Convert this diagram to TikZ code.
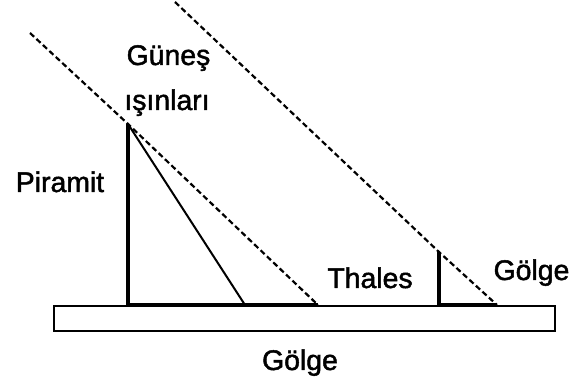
\documentclass[tikz,border=0pt]{standalone}
\usepackage{fontspec}
\setmainfont{Liberation Sans}
\newfontfamily\lblfont{Liberation Sans}[FakeBold=1.6]
\begin{document}
\begin{tikzpicture}[x=0.5pt,y=-0.5pt,
  lbl/.style={inner sep=0pt,anchor=base,font=\lblfont\fontsize{14.2pt}{16pt}\selectfont},
  ray/.style={line width=1.1pt,dash pattern=on 2.8pt off 1.6pt},
  thickln/.style={line width=2pt},
  thinln/.style={line width=1pt},
  groundbox/.style={line width=1pt}]
\useasboundingbox (0,0) rectangle (574,384);
% ground
\draw[groundbox] (54,306) rectangle (555,331);
% points
\coordinate (apex) at (128,124);
\coordinate (pbase) at (128,305);
\coordinate (pshadow) at (318,305);
\coordinate (hyp) at (245,305);
\coordinate (r1start) at (30,33);
\coordinate (stop) at (439,252);
\coordinate (sbase) at (439,305);
\coordinate (sshadow) at (497,305);
\coordinate (r2start) at (175,2);
% pyramid
\draw[thickln] (apex) -- (pbase) -- (pshadow);
\draw[thinln] (apex) -- (hyp);
\draw[ray] (r1start) -- (apex) -- (pshadow);
% Thales stick
\draw[thickln] (stop) -- (sbase) -- (sshadow);
\draw[ray] (r2start) -- (stop) -- (sshadow);
% labels
\node[lbl] (gunes) at (168.5,65) {Güneş};
\node[lbl] (isin) at (167,110) {ışınları};
\node[lbl] (piramit) at (60,192) {Piramit};
\node[lbl] (thales) at (370,288) {Thales};
\node[lbl] (golge1) at (531.5,280) {Gölge};
\node[lbl] (golge2) at (300,370) {Gölge};
\end{tikzpicture}
\end{document}
